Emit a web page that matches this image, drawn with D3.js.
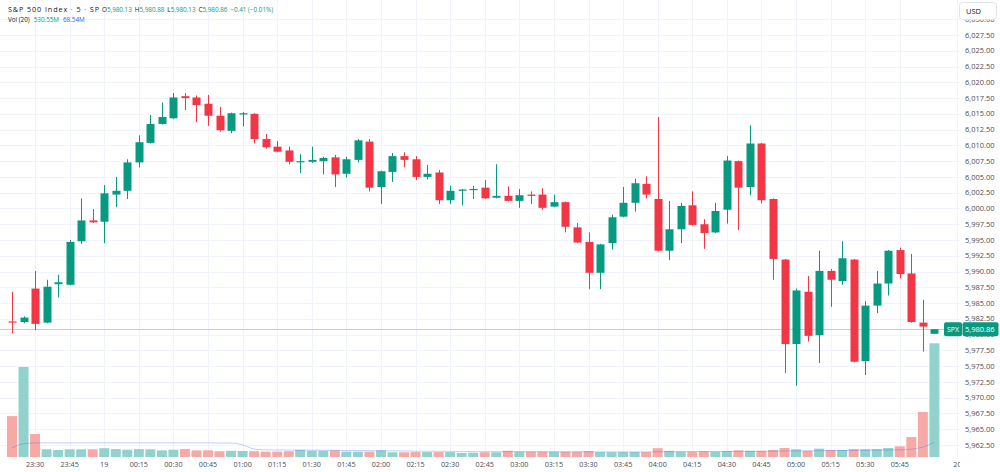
<!DOCTYPE html>
<html><head><meta charset="utf-8">
<script src="https://cdn.jsdelivr.net/npm/d3@7"></script>
<style>
html,body{margin:0;padding:0;background:#fff;}
svg{display:block;font-family:"Open Sans","Noto Sans",sans-serif;}
</style></head><body>
<svg id="chart" width="1000" height="472"></svg>
<script>
const times = ["23:20","23:25","23:30","23:35","23:40","23:45","23:50","23:55","00:00","00:05","00:10","00:15","00:20","00:25","00:30","00:35","00:40","00:45","00:50","00:55","01:00","01:05","01:10","01:15","01:20","01:25","01:30","01:35","01:40","01:45","01:50","01:55","02:00","02:05","02:10","02:15","02:20","02:25","02:30","02:35","02:40","02:45","02:50","02:55","03:00","03:05","03:10","03:15","03:20","03:25","03:30","03:35","03:40","03:45","03:50","03:55","04:00","04:05","04:10","04:15","04:20","04:25","04:30","04:35","04:40","04:45","04:50","04:55","05:00","05:05","05:10","05:15","05:20","05:25","05:30","05:35","05:40","05:45","05:50","05:55","06:00"];
const open  = [5982.1,5982.0,5987.3,5981.9,5988.0,5987.9,5994.8,5998.1,5997.9,6002.2,6002.8,6007.3,6010.4,6013.4,6014.3,6017.8,6017.6,6016.6,6014.7,6012.3,6014.9,6015.0,6011.0,6009.8,6009.2,6007.4,6007.4,6007.5,6008.1,6005.5,6007.7,6010.6,6003.4,6005.8,6008.3,6007.8,6005.0,6005.7,6001.3,6002.8,6002.9,6003.3,6001.7,6002.0,6001.2,6002.2,6002.2,6000.3,6001.0,5997.0,5994.7,5989.8,5994.5,5998.7,6000.9,6003.9,6001.5,5993.3,5996.7,6000.5,5997.5,5996.2,5999.8,6007.5,6003.4,6010.3,6001.5,5991.9,5978.5,5986.8,5979.9,5990.1,5988.5,5991.9,5975.8,5984.6,5988.1,5993.4,5989.7,5981.9,5980.13];
const high  = [5986.8,5982.9,5990.1,5988.7,5989.5,5995.0,6001.6,5999.9,6003.7,6005.0,6007.8,6011.6,6014.8,6016.8,6018.3,6018.3,6017.9,6018.0,6016.1,6015.2,6015.3,6015.1,6011.8,6010.7,6009.8,6008.6,6009.8,6008.2,6008.5,6008.2,6011.0,6011.0,6006.0,6008.8,6008.9,6008.3,6006.9,6006.1,6003.6,6003.1,6003.6,6004.5,6007.0,6003.5,6003.1,6002.7,6003.2,6002.2,6001.1,5997.7,5996.2,5994.4,5999.0,6003.4,6004.7,6005.1,6014.5,6001.2,6000.9,6002.7,5998.3,6000.9,6008.3,6007.6,6013.2,6010.4,6001.6,5992.0,5987.3,5989.3,5993.3,5990.4,5994.8,5992.0,5985.3,5990.1,5993.4,5993.8,5992.8,5985.5,5980.88];
const low   = [5980.2,5981.8,5980.7,5981.8,5985.9,5987.8,5994.4,5997.7,5994.5,6000.2,6001.5,6006.5,6010.3,6013.3,6014.2,6015.6,6013.7,6013.1,6012.2,6011.9,6013.0,6010.3,6009.5,6008.9,6007.0,6005.6,6007.2,6005.4,6003.4,6004.9,6007.3,6002.7,6000.7,6004.2,6006.5,6004.5,6004.6,6000.7,6000.7,6000.5,6001.5,6001.5,6001.6,6001.1,6000.1,6000.7,5999.8,6000.2,5996.2,5994.5,5987.2,5987.2,5993.5,5998.6,5999.5,6001.6,5993.2,5991.8,5994.5,5997.3,5993.6,5996.1,5997.6,5996.6,6002.1,6000.8,5988.7,5973.9,5971.9,5978.9,5975.5,5984.4,5987.9,5975.6,5973.6,5983.4,5986.2,5988.9,5981.9,5977.3,5980.13];
const close = [5982.0,5982.7,5981.7,5987.6,5988.3,5994.7,5998.1,5997.8,6002.4,6002.8,6007.3,6010.5,6013.4,6014.5,6017.6,6017.5,6016.4,6014.7,6012.4,6015.1,6015.1,6011.0,6009.7,6009.0,6007.4,6007.5,6007.7,6008.0,6005.4,6007.8,6010.8,6003.3,6005.9,6008.3,6007.7,6005.0,6005.5,6001.3,6002.8,6003.0,6003.1,6001.6,6002.0,6001.2,6002.1,6002.0,6000.1,6001.0,5997.1,5994.6,5989.8,5994.3,5998.6,6000.9,6004.0,6002.2,5993.3,5996.7,6000.4,5997.4,5996.1,5999.6,6007.6,6003.3,6010.3,6001.3,5992.0,5978.5,5987.0,5979.8,5990.1,5988.7,5992.1,5975.7,5984.6,5988.1,5993.3,5989.6,5982.0,5981.27,5980.86];
const volume = [191,420,107,36,33,36,36,36,41,37,34,37,36,31,34,37,31,31,27,29,28,27,25,25,27,33,29,29,31,25,25,25,31,22,22,23,23,23,23,19,20,22,22,29,25,25,25,25,25,25,28,23,22,23,23,23,41,29,25,25,27,25,28,31,29,29,33,42,36,29,39,33,33,37,36,37,42,50,93,210,530.55];
const volMA = [42.8,62.1,65.7,65.7,65.6,65.7,65.7,65.8,66.0,66.2,66.1,66.2,66.3,66.1,66.0,66.1,65.9,65.7,65.3,65.0,56.9,37.2,33.1,32.6,32.3,32.1,31.8,31.4,30.9,30.3,29.9,29.3,29.0,28.6,28.0,27.3,26.9,26.5,26.3,25.8,25.4,25.1,25.0,25.2,25.1,24.7,24.5,24.3,24.0,24.0,24.1,24.0,23.6,23.6,23.7,23.7,24.6,24.9,25.0,25.3,25.6,25.8,26.1,26.2,26.4,26.6,27.0,27.8,28.4,28.6,29.1,29.6,30.2,30.9,31.5,32.2,32.3,33.3,36.7,46.0,68.54];
const priceTicks = [6030,6027.5,6025,6022.5,6020,6017.5,6015,6012.5,6010,6007.5,6005,6002.5,6000,5997.5,5995,5992.5,5990,5987.5,5985,5982.5,5980,5977.5,5975,5972.5,5970,5967.5,5965,5962.5];
const timeTickTimes  = ["23:30","23:45","00:00","00:15","00:30","00:45","01:00","01:15","01:30","01:45","02:00","02:15","02:30","02:45","03:00","03:15","03:30","03:45","04:00","04:15","04:30","04:45","05:00","05:15","05:30","05:45","06:10"];
const timeTickLabels = ["23:30","23:45","19","00:15","00:30","00:45","01:00","01:15","01:30","01:45","02:00","02:15","02:30","02:45","03:00","03:15","03:30","03:45","04:00","04:15","04:30","04:45","05:00","05:15","05:30","05:45","20"];
const lastPrice = 5980.86;
const symbolName = "S&P 500 Index · 5 · SP";
const volLabel = "Vol (20)";

const UP = "#089981", DOWN = "#F23645";
const VUP = "#92D2CC", VDOWN = "#F7A9A7";
const TXT = "#131722", AX = "#4a4d57";
const plotW = 960, plotBottom = 457;

function toMin(t){ const [h,m]=t.split(":").map(Number); let mm=h*60+m; if(h<12) mm+=24*60; return mm-(23*60+20); }
const data = times.map((t,i)=>({t, m:toMin(t), o:open[i], h:high[i], l:low[i], c:close[i], v:volume[i], ma:volMA[i]}));

const x = d3.scaleLinear().domain([0, 400]).range([12, 12 + 400*(11.53/5)]);
const y = d3.scaleLinear().domain([5962.5, 6027.5]).range([445, 35]);
const yv = d3.scaleLinear().domain([0, 530.55]).range([plotBottom, 343.3]);

const svg = d3.select("#chart");
const defs = svg.append("defs");
defs.append("clipPath").attr("id","plotclip").append("rect").attr("x",0).attr("y",0).attr("width",plotW).attr("height",plotBottom);
defs.append("clipPath").attr("id","timeclip").append("rect").attr("x",0).attr("y",plotBottom).attr("width",plotW).attr("height",472-plotBottom);

const plot = svg.append("g").attr("clip-path","url(#plotclip)");

// grid
plot.append("g").selectAll("line").data(priceTicks).join("line")
  .attr("x1",0).attr("x2",plotW).attr("y1",d=>Math.round(y(d))+0.5).attr("y2",d=>Math.round(y(d))+0.5)
  .attr("stroke","#f0f3fa").attr("stroke-width",1);
plot.append("g").selectAll("line").data(timeTickTimes).join("line")
  .attr("x1",d=>Math.round(x(toMin(d)))+0.5).attr("x2",d=>Math.round(x(toMin(d)))+0.5)
  .attr("y1",0).attr("y2",plotBottom)
  .attr("stroke","#f0f3fa").attr("stroke-width",1);

// volume bars
const vbw = 10;
plot.append("g").selectAll("rect").data(data).join("rect")
  .attr("x",d=>x(d.m)-vbw/2).attr("width",vbw)
  .attr("y",d=>yv(d.v)).attr("height",d=>plotBottom-yv(d.v))
  .attr("fill",d=>d.c>=d.o?VUP:VDOWN);

// volume MA
plot.append("path").datum(data)
  .attr("d", d3.line().x(d=>x(d.m)).y(d=>yv(d.ma)).curve(d3.curveMonotoneX))
  .attr("fill","none").attr("stroke","#2962FF").attr("stroke-opacity",0.3).attr("stroke-width",1);

// last price line
plot.append("line").attr("x1",0).attr("x2",plotW)
  .attr("y1",Math.round(y(lastPrice))+0.5).attr("y2",Math.round(y(lastPrice))+0.5)
  .attr("stroke","#a8dcd3").attr("stroke-width",1);

// candles
const cw = 8;
const cg = plot.append("g").selectAll("g").data(data).join("g");
cg.append("line")
  .attr("x1",d=>Math.round(x(d.m))+0.5).attr("x2",d=>Math.round(x(d.m))+0.5)
  .attr("y1",d=>y(d.h)).attr("y2",d=>y(d.l))
  .attr("stroke",d=>d.c>=d.o?UP:DOWN).attr("stroke-width",1);
cg.append("rect")
  .attr("x",d=>Math.round(x(d.m))+0.5-cw/2).attr("width",cw)
  .attr("y",d=>y(Math.max(d.o,d.c)))
  .attr("height",d=>Math.max(1.2, Math.abs(y(d.o)-y(d.c))))
  .attr("fill",d=>d.c>=d.o?UP:DOWN);

// price axis labels
const fmt = d3.format(",.2f");
svg.append("g").selectAll("text").data(priceTicks).join("text")
  .attr("x",965).attr("y",d=>y(d)+2.6)
  .attr("font-size",7.5).attr("fill",AX)
  .text(d=>fmt(d));

// USD box
svg.append("rect").attr("x",959.5).attr("y",2.5).attr("width",37).attr("height",17).attr("rx",3)
  .attr("fill","#fff").attr("stroke","#e0e3eb");
svg.append("text").attr("x",966).attr("y",13.5).attr("font-size",7.5).attr("fill",TXT).text("USD");

// SPX price label
const ly = y(lastPrice);
svg.append("rect").attr("x",944).attr("y",ly-7).attr("width",18).attr("height",14).attr("rx",2).attr("fill",UP);
svg.append("text").attr("x",953).attr("y",ly+2.6).attr("text-anchor","middle").attr("font-size",7).attr("fill","#fff").text("SPX");
svg.append("rect").attr("x",962.5).attr("y",ly-7).attr("width",36).attr("height",14).attr("rx",2).attr("fill",UP);
svg.append("text").attr("x",965).attr("y",ly+2.6).attr("font-size",7.5).attr("fill","#fff").text(fmt(lastPrice));

// time axis
svg.append("g").attr("clip-path","url(#timeclip)").selectAll("text").data(timeTickTimes).join("text")
  .attr("x",(d)=>x(toMin(d))).attr("y",466.5).attr("text-anchor","middle")
  .attr("font-size",7.2).attr("fill",AX)
  .text((d,i)=>timeTickLabels[i]);

// legend
const last = data[data.length-1];
const prevC = close[close.length-2];
const chg = last.c - prevC;
const FS = 6.3;
svg.append("text").attr("x",8).attr("y",11.5).attr("font-size",7.2).attr("fill",TXT)
  .attr("textLength",91).attr("lengthAdjust","spacing").text(symbolName);
const l1 = svg.append("text").attr("x",102).attr("y",11.5).attr("font-size",FS).attr("fill",TXT);
[["O",last.o],["H",last.h],["L",last.l],["C",last.c]].forEach(([k,v],i)=>{
  l1.append("tspan").attr("dx", i?3:0).attr("fill",TXT).text(k);
  l1.append("tspan").attr("fill",UP).text(fmt(v));
});
l1.append("tspan").attr("dx",3).attr("fill",UP).text(d3.format(".2f")(chg)+" ("+d3.format(".2f")(chg/prevC*100)+"%)");
const l2 = svg.append("text").attr("x",8).attr("y",21.5).attr("font-size",FS).attr("fill",TXT);
l2.append("tspan").text(volLabel);
l2.append("tspan").attr("dx",4).attr("fill",UP).text(d3.format(".2f")(last.v)+"M");
l2.append("tspan").attr("dx",4).attr("fill","#2962FF").text(d3.format(".2f")(last.ma)+"M");
</script>
</body></html>
